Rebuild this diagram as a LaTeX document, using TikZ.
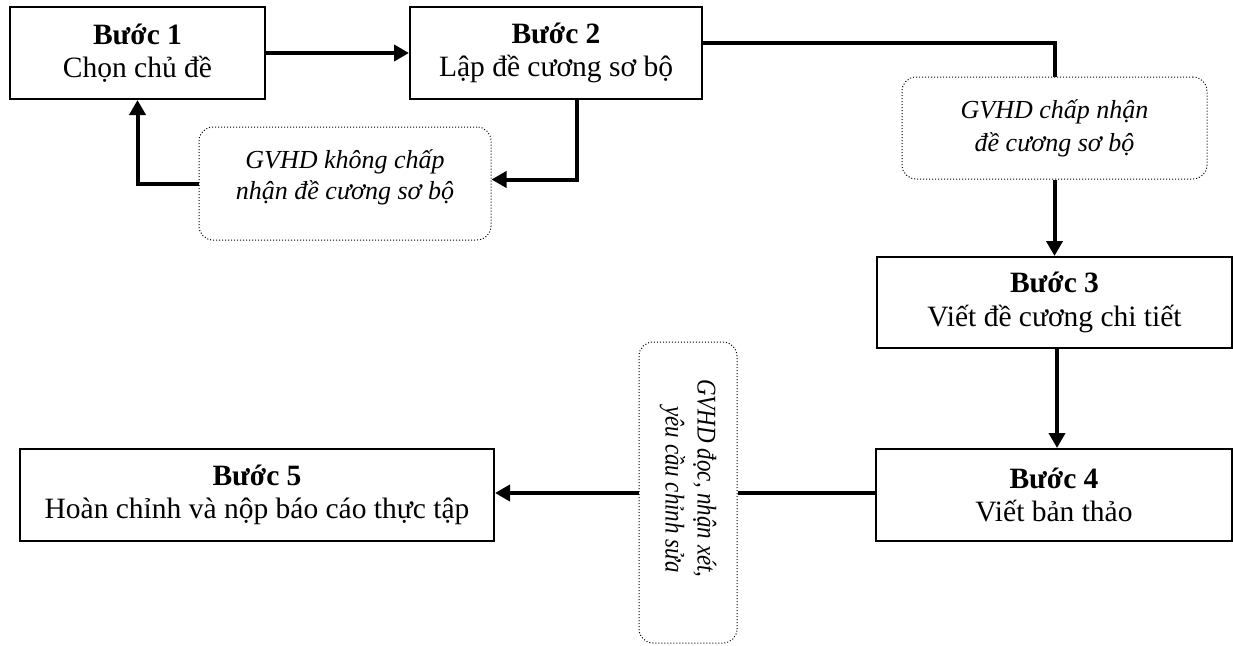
\documentclass[tikz,border=0pt]{standalone}
\usepackage{fontspec}
\usepackage{graphicx}
\setmainfont{Liberation Serif}
\usetikzlibrary{arrows.meta}
\begin{document}
\begin{tikzpicture}[x=1pt,y=-1pt,
  stepbox/.style={draw,line width=2pt,minimum height=92pt,align=center,inner sep=0pt,
    font=\fontsize{29.5}{33.5}\selectfont},
  notebox/.style={draw,dotted,line width=1pt,rounded corners=14pt,align=center,inner sep=0pt,
    font=\fontsize{26}{32}\selectfont\itshape},
  conn/.style={line width=4pt},
  arr/.style={conn,-{Triangle[length=15pt,width=16pt]}}]
\useasboundingbox (0,0) rectangle (1233,645);

\node[stepbox,minimum width=255pt] (B1) at (137.5,53) {\textbf{Bước 1}\\Chọn chủ đề};
\node[stepbox,minimum width=292pt] (B2) at (556,53) {\textbf{Bước 2}\\Lập đề cương sơ bộ};
\node[stepbox,minimum width=355pt,minimum height=91pt] (B3) at (1054.5,302.5) {\textbf{Bước 3}\\Viết đề cương chi tiết};
\node[stepbox,minimum width=356pt] (B4) at (1054,495) {\textbf{Bước 4}\\Viết bản thảo};
\node[stepbox,minimum width=474pt] (B5) at (257,495) {\textbf{Bước 5}\\Hoàn chỉnh và nộp báo cáo thực tập};

\node[notebox,minimum width=292pt,minimum height=113pt,text depth=18pt,
  font=\fontsize{26}{31}\selectfont\itshape] (D1) at (345,183.5) {GVHD không chấp\\nhận đề cương sơ bộ};
\node[notebox,minimum width=305pt,minimum height=102pt,
  font=\fontsize{26}{33}\selectfont\itshape] (D2) at (1054.5,128) {GVHD chấp nhận\\đề cương sơ bộ};
\node[notebox,rotate=-90,minimum width=301pt,minimum height=98pt,
  font=\fontsize{27}{32}\selectfont\itshape] (D3) at (688,492.5)
  {\scalebox{0.85}[1]{GVHD đọc, nhận xét,}\hspace*{28pt}\\\scalebox{0.85}[1]{yêu cầu chỉnh sửa}\hspace*{6pt}};

\draw[arr] (B1) -- (B2);
\draw[conn] ([yshift=10pt]B2.east) -| (D2.north);
\draw[arr] (D2.south) -- (D2.south |- B3.north);
\draw[arr] ([xshift=21pt]B2.south) |- ([yshift=4pt]D1.east);
\draw[arr] (D1.west) -| (B1.south);
\draw[arr] ([xshift=2.5pt]B3.south) -- ([xshift=2.5pt]B3.south |- B4.north);
\draw[conn] ([yshift=2pt]B4.west) -- ([yshift=2pt]B4.west -| D3.north);
\draw[arr] ([yshift=2pt]B4.west -| D3.south) -- ([yshift=2pt]B4.west -| B5.east);
\end{tikzpicture}
\end{document}
